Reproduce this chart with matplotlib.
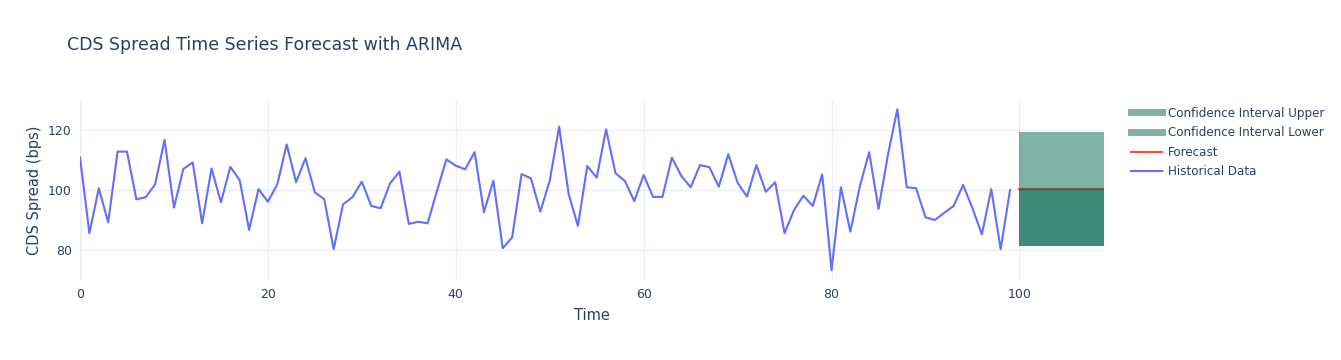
import matplotlib
matplotlib.use("Agg")
import matplotlib.pyplot as plt
from matplotlib.lines import Line2D

# historical CDS spread (bps), t = 0..99
hist_values = [
    110.8, 85.6, 100.6, 89.2, 112.8, 112.8, 96.9, 97.6, 101.9, 116.7,
    94.1, 107.0, 109.2, 88.9, 107.2, 95.9, 107.7, 103.3, 86.7, 100.3,
    96.1, 101.9, 115.2, 102.6, 110.6, 99.2, 96.9, 80.3, 95.2, 97.6,
    102.8, 94.7, 93.9, 102.2, 106.1, 88.7, 89.4, 88.9, 99.7, 110.2,
    108.1, 106.9, 112.6, 92.6, 103.1, 80.6, 84.2, 105.3, 103.9, 92.8,
    103.1, 121.1, 98.9, 88.0, 108.0, 104.1, 120.2, 105.6, 103.0, 96.3,
    105.0, 97.7, 97.7, 110.8, 104.7, 100.9, 108.3, 107.6, 101.1, 111.9,
    102.4, 97.8, 108.3, 99.4, 102.6, 85.6, 93.3, 98.1, 94.7, 105.2,
    73.3, 100.9, 86.1, 101.1, 112.6, 93.7, 111.7, 126.9, 100.9, 100.6,
    90.9, 90.0, 92.4, 94.7, 101.7, 93.9, 85.2, 100.3, 80.3, 100.0,
]
hist_time = list(range(len(hist_values)))

# ARIMA forecast, t = 100..109
fc_time = list(range(100, 110))
fc_values = [100.3, 100.3, 100.3, 100.3, 100.3, 100.3, 100.3, 100.3, 100.3, 100.3]
ci_upper = [119.4, 119.4, 119.4, 119.4, 119.4, 119.4, 119.4, 119.4, 119.4, 119.4]
ci_lower = [81.3, 81.3, 81.3, 81.3, 81.3, 81.3, 81.3, 81.3, 81.3, 81.3]

text_col = "#2a3f5f"
grid_col = "#ebf0f8"
blue = "#636efa"
red = "#ef553b"
band = (0 / 255, 100 / 255, 80 / 255, 0.5)

plt.rcParams["font.family"] = ["DejaVu Sans"]

W, H = 1341, 360
fig = plt.figure(figsize=(W / 100, H / 100), dpi=100, facecolor="white")
ax = fig.add_axes([80 / W, 1 - 280 / H, (1104 - 80) / W, 180 / H])
ax.set_facecolor("white")

# bands: upper half single layer, lower half double layer
ax.plot(fc_time, fc_values, color=red, lw=1.5, zorder=2)
ax.fill_between(fc_time, ci_lower, ci_upper, color=band, lw=0, zorder=3)
ax.fill_between(fc_time, ci_lower, fc_values, color=band, lw=0, zorder=3)
ax.plot(hist_time, hist_values, color=blue, lw=1.5, zorder=4)

ax.set_xlim(0, 109)
ax.set_ylim(70, 130)
ax.set_xticks([0, 20, 40, 60, 80, 100])
ax.set_yticks([80, 100, 120])
ax.grid(True, color=grid_col, lw=1)
ax.set_axisbelow(True)
for s in ax.spines.values():
    s.set_visible(False)
ax.axvline(0, color=grid_col, lw=2, zorder=1)
ax.tick_params(length=0, colors=text_col, labelsize=9, pad=6)

ax.set_xlabel("Time", color=text_col, fontsize=10.5, labelpad=5)
ax.set_ylabel("CDS Spread (bps)", color=text_col, fontsize=10.5, labelpad=4)

fig.text(67 / W, 1 - 45 / H, "CDS Spread Time Series Forecast with ARIMA",
         color=text_col, fontsize=12.5, va="center", ha="left")

handles = [
    Line2D([], [], color=band, lw=5),
    Line2D([], [], color=band, lw=5),
    Line2D([], [], color=red, lw=1.5),
    Line2D([], [], color=blue, lw=1.5),
]
labels = ["Confidence Interval Upper", "Confidence Interval Lower", "Forecast", "Historical Data"]
fig.legend(handles, labels, loc="upper left", bbox_to_anchor=(1127 / W, 1 - 103 / H),
           frameon=False, fontsize=8.6, labelcolor=text_col, handlelength=2.6,
           handletextpad=0.5, labelspacing=0.55, borderaxespad=0, borderpad=0.3)

fig.savefig("out.png", dpi=100, facecolor="white")
